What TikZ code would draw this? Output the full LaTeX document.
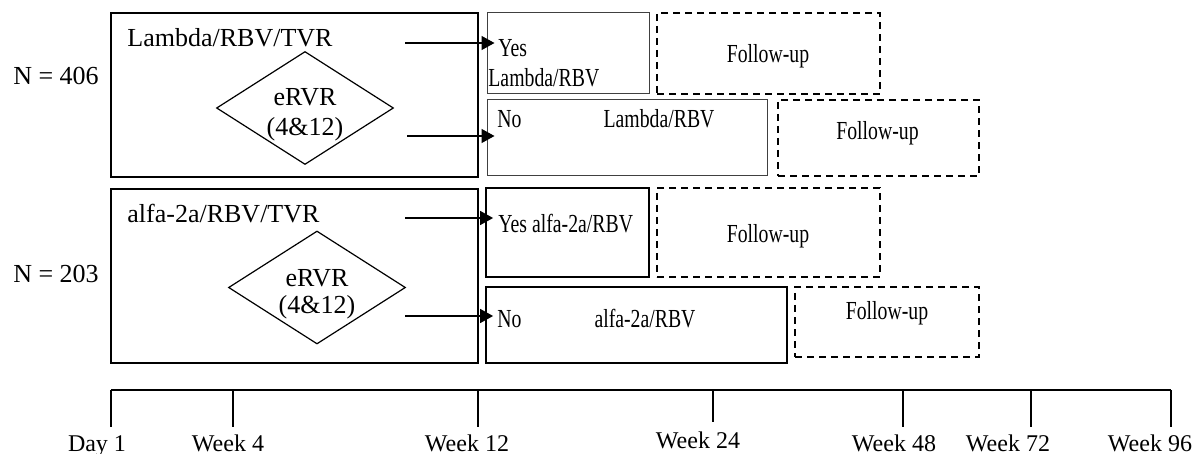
\documentclass[tikz,border=0pt]{standalone}
\usepackage{fontspec}
\setmainfont{Liberation Serif}
\newfontfamily\narrowfont[FakeStretch=0.76]{Liberation Serif}
\usetikzlibrary{shapes.geometric,arrows.meta}

\begin{document}
\begin{tikzpicture}[x=0.5pt,y=-0.5pt,
    font=\fontsize{13}{15}\selectfont,
    >={Triangle[length=6.5pt,width=7pt]},
    armbox/.style={draw,line width=0.9pt,inner sep=0pt},
    thinbox/.style={draw=black!75,line width=0.5pt,inner sep=0pt},
    thickbox/.style={draw,line width=0.9pt,inner sep=0pt},
    fupbox/.style={draw,dash pattern=on 3.5pt off 2.5pt,line width=0.75pt,inner sep=0pt},
    choice/.style={draw,diamond,line width=0.6pt,inner sep=0pt,
        minimum width=88.5pt,minimum height=56.5pt},
    txt/.style={inner sep=0pt,anchor=base},
    ltxt/.style={inner sep=0pt,anchor=base west},
    rtxt/.style={inner sep=0pt,anchor=base west,font=\fontsize{13}{15}\narrowfont},
    ctxt/.style={inner sep=0pt,anchor=base,font=\fontsize{13}{15}\narrowfont},
    wk/.style={inner sep=0pt,anchor=base,font=\fontsize{12}{14}\selectfont}]
\useasboundingbox (0,0) rectangle (1199,454);

% lambda arm
\node [armbox,minimum width=183.5pt,minimum height=82pt] (armA) at (294.5,95) {};
\node [txt] (nA) at (56,85) {N = 406};
\node [ltxt] (regA) at (127,47) {Lambda/RBV/TVR};
\node [choice] (dA) at (305,108) {};
\node [txt] (dA1) at (305,106) {eRVR};
\node [txt] (dA2) at (305,136) {(4\&12)};

\node [thinbox,minimum width=81pt,minimum height=40.5pt] (yesA) at (568,53.5) {};
\node [rtxt] (yesAt) at (498,57) {Yes};
\node [rtxt] (yesAr) at (488,87) {Lambda/RBV};
\node [fupbox,minimum width=111.5pt,minimum height=40.5pt] (fupA) at (768.5,53.5) {};
\node [ctxt] (fupAt) at (768,63) {Follow-up};

\node [thinbox,minimum width=140pt,minimum height=38pt] (noA) at (627,138) {};
\node [rtxt] (noAt) at (497,128) {No};
\node [ctxt] (noAr) at (659,128) {Lambda/RBV};
\node [fupbox,minimum width=100.5pt,minimum height=38pt] (fupB) at (878.5,138) {};
\node [ctxt] (fupBt) at (877.5,140) {Follow-up};

\coordinate (sA1) at (405,43);
\coordinate (sA2) at (407,136);
\draw (sA1) [->,line width=0.65pt] -- ([xshift=4pt]sA1 -| yesA.west);
\draw (sA2) [->,line width=0.65pt] -- ([xshift=4pt]sA2 -| noA.west);

% alfa arm
\node [armbox,minimum width=183.5pt,minimum height=87pt] (armB) at (294.5,276) {};
\node [txt] (nB) at (56,283) {N = 203};
\node [ltxt] (regB) at (127,223) {alfa-2a/RBV/TVR};
\node [choice] (dB) at (317,287.5) {};
\node [txt] (dB1) at (317,286) {eRVR};
\node [txt] (dB2) at (317,314) {(4\&12)};

\node [thickbox,minimum width=81.5pt,minimum height=44.5pt] (yesB) at (567.5,232.5) {};
\node [rtxt] (yesBt) at (498,233) {Yes alfa-2a/RBV};
\node [fupbox,minimum width=111.5pt,minimum height=44.5pt] (fupC) at (768.5,232.5) {};
\node [ctxt] (fupCt) at (768,243) {Follow-up};

\node [thickbox,minimum width=150.5pt,minimum height=38pt] (noB) at (636.5,325) {};
\node [rtxt] (noBt) at (497,328) {No};
\node [ctxt] (noBr) at (645,328) {alfa-2a/RBV};
\node [fupbox,minimum width=92pt,minimum height=35pt] (fupD) at (887,322) {};
\node [ctxt] (fupDt) at (887,320) {Follow-up};

\coordinate (sB1) at (405,218);
\coordinate (sB2) at (405,316);
\draw (sB1) [->,line width=0.65pt] -- ([xshift=4pt]sB1 -| yesB.west);
\draw (sB2) [->,line width=0.65pt] -- ([xshift=4pt]sB2 -| noB.west);

% time line
\coordinate (t0) at (111,390);
\coordinate (t6) at (1171,390);
\draw [line width=0.8pt] (t0) -- (t6);
\foreach \x/\len in {111/427,233/427,478/427,713/422,903/427,1031/427,1171/427}
    \draw [line width=1.3pt] (\x,390) -- (\x,\len);
\foreach \x/\y/\lab [count=\i] in {97/451/Day 1,228/451/Week 4,467/451/Week 12,
        698/448/Week 24,894/451/Week 48,1008/451/Week 72,1150/451/Week 96}
    \node [wk] (wk\i) at (\x,\y) {\lab};
\end{tikzpicture}
\end{document}
